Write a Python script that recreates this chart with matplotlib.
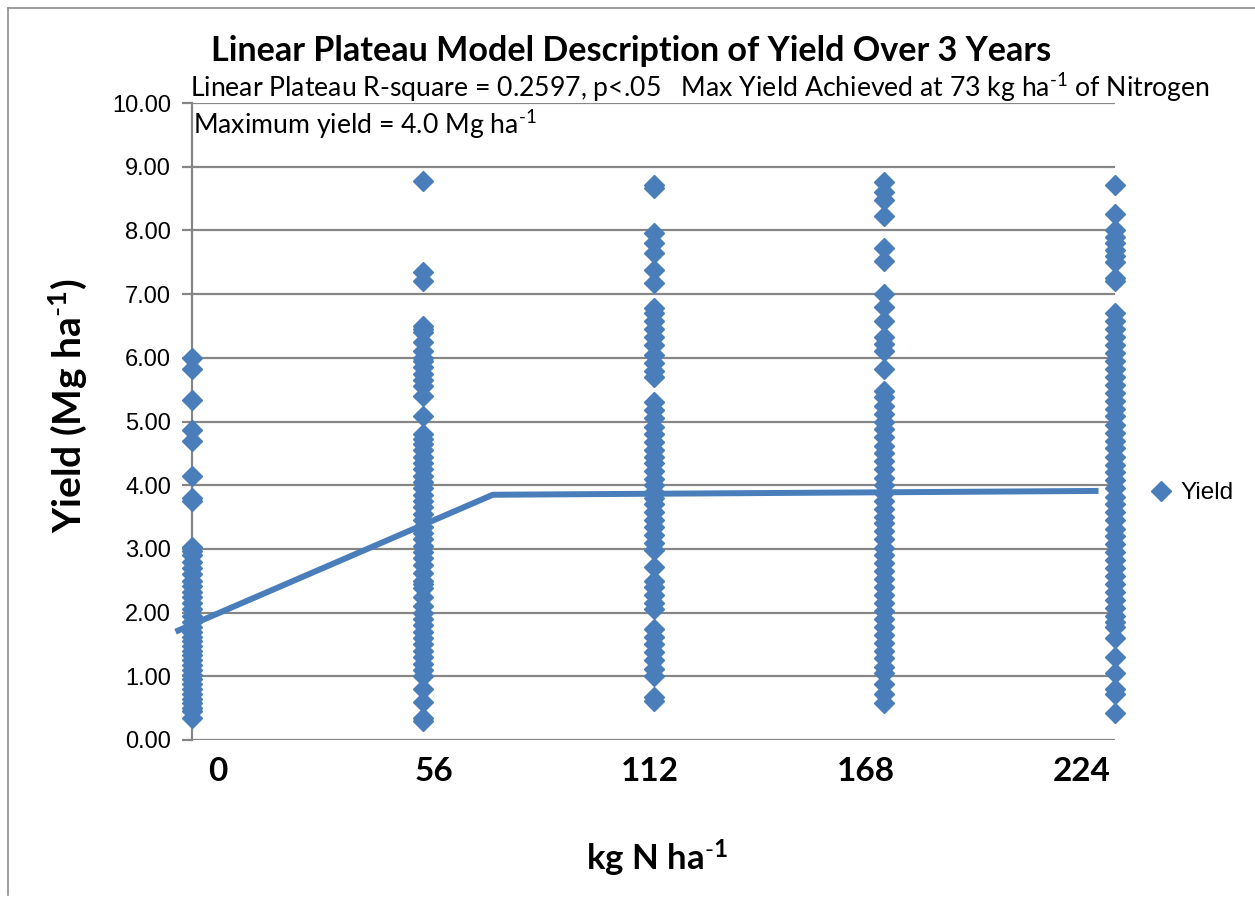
import numpy as np
import matplotlib
matplotlib.use("Agg")
import matplotlib.pyplot as plt
from matplotlib.lines import Line2D

# data (yield, Mg/ha) for each N rate
n_rates = [0, 56, 112, 168, 224]
yield_0 = [6.00, 5.82, 5.33, 4.87, 4.70, 4.15, 3.80, 3.75,
           3.03, 2.97, 2.90, 2.80, 2.70, 2.60, 2.50, 2.42, 2.33, 2.25, 2.15, 2.05,
           1.95, 1.85, 1.78, 1.70, 1.62, 1.55, 1.48, 1.40, 1.33, 1.25, 1.18, 1.10,
           1.02, 0.95, 0.88, 0.80, 0.72, 0.65, 0.58, 0.50, 0.45, 0.35]
yield_56 = [8.78, 7.35, 7.20, 6.50, 6.45, 6.40, 6.25, 6.10, 6.00, 5.95, 5.85, 5.75,
            5.65, 5.55, 5.40, 5.08, 4.80, 4.72, 4.65, 4.55, 4.45, 4.35, 4.25, 4.15,
            4.05, 3.95, 3.85, 3.75, 3.65, 3.55, 3.45, 3.35, 3.25, 3.15, 3.05, 2.95,
            2.85, 2.75, 2.62, 2.50, 2.45, 2.38, 2.25, 2.10, 2.00, 1.90, 1.80, 1.70,
            1.60, 1.50, 1.40, 1.30, 1.20, 1.10, 1.00, 0.80, 0.60, 0.35, 0.30]
yield_112 = [8.72, 8.66, 7.96, 7.80, 7.64, 7.38, 7.18, 6.78, 6.70, 6.58, 6.45, 6.32,
             6.20, 6.05, 5.92, 5.80, 5.70, 5.30, 5.18, 5.05, 4.92, 4.80, 4.68, 4.55,
             4.45, 4.35, 4.22, 4.10, 4.00, 3.90, 3.80, 3.70, 3.58, 3.45, 3.35, 3.22,
             3.10, 2.98, 2.72, 2.50, 2.40, 2.28, 2.15, 2.05, 1.75, 1.62, 1.50, 1.38,
             1.25, 1.12, 1.00, 0.68, 0.62]
yield_168 = [8.76, 8.60, 8.48, 8.22, 7.72, 7.52, 7.00, 6.80, 6.58, 6.33, 6.22, 6.10,
             5.82, 5.48, 5.38, 5.25, 5.12, 5.00, 4.88, 4.75, 4.62, 4.50, 4.38, 4.25,
             4.12, 4.00, 3.88, 3.75, 3.62, 3.50, 3.40, 3.28, 3.15, 3.02, 2.90, 2.78,
             2.65, 2.52, 2.40, 2.28, 2.15, 2.02, 1.90, 1.78, 1.65, 1.52, 1.40, 1.28,
             1.15, 1.05, 0.88, 0.72, 0.58]
yield_224 = [8.72, 8.25, 8.00, 7.90, 7.80, 7.70, 7.60, 7.50, 7.25, 7.20, 6.70, 6.58,
             6.45, 6.32, 6.20, 6.08, 5.95, 5.82, 5.70, 5.58, 5.45, 5.32, 5.20, 5.08,
             4.95, 4.82, 4.70, 4.58, 4.45, 4.32, 4.20, 4.08, 3.95, 3.82, 3.70, 3.58,
             3.45, 3.32, 3.20, 3.08, 2.95, 2.82, 2.70, 2.58, 2.45, 2.32, 2.20, 2.08,
             1.95, 1.85, 1.78, 1.60, 1.30, 1.05, 0.80, 0.72, 0.42]
yields = [yield_0, yield_56, yield_112, yield_168, yield_224]

# linear plateau fit
fit_x = [-4, 73, 220]
fit_y = [1.70, 3.85, 3.91]

blue = "#4A7EBB"
grid_c = "#868686"
cal = ["Lato", "DejaVu Sans"]
plt.rcParams["font.family"] = ["Liberation Sans", "DejaVu Sans"]
plt.rcParams["mathtext.fontset"] = "custom"
plt.rcParams["mathtext.rm"] = "Lato"
plt.rcParams["mathtext.bf"] = "Lato:bold"
plt.rcParams["mathtext.default"] = "regular"

fig = plt.figure(figsize=(12.55, 9.09), dpi=100)
ax = fig.add_axes([192 / 1255, 1 - 740 / 909, 923 / 1255, 637 / 909])

for x, ys in zip(n_rates, yields):
    ax.plot([x] * len(ys), ys, linestyle="none", marker="D", ms=10.5,
            color=blue, mec=blue, clip_on=False, zorder=3)
ax.plot(fit_x, fit_y, color=blue, lw=4.3, solid_capstyle="butt",
        clip_on=False, zorder=4)

ax.set_xlim(0, 224)
ax.set_ylim(0, 10)
ax.set_yticks(np.arange(0, 11, 1))
ax.set_yticklabels([f"{v:.2f}" for v in np.arange(0, 11, 1)], fontsize=17)
ax.yaxis.grid(True, color=grid_c, lw=1.6)
ax.set_axisbelow(True)
for s in ["top", "right", "bottom"]:
    ax.spines[s].set_visible(False)
ax.spines["left"].set_color(grid_c)
ax.spines["left"].set_linewidth(1.6)
ax.tick_params(axis="y", length=7, width=1.6, color=grid_c, pad=8)
ax.set_xticks([])

# category-style labels sit slightly off the points in the original
ax2 = ax.twiny()
ax2.set_xlim(-6.7, 232.6)
ax2.xaxis.set_ticks_position("bottom")
ax2.set_xticks(n_rates)
ax2.set_xticklabels([str(v) for v in n_rates], fontsize=24,
                    fontweight="bold", family=cal)
ax2.tick_params(axis="x", length=0, pad=12)
for s in ax2.spines.values():
    s.set_visible(False)

fig.text(631 / 1255, 1 - 51 / 909, "Linear Plateau Model Description of Yield Over 3 Years",
         ha="center", va="center", fontsize=24.6, fontweight="bold", family=cal)
fig.text(190 / 1255, 1 - 88 / 909,
         r"Linear Plateau R-square = 0.2597, p<.05   Max Yield Achieved at 73 kg ha$^{\text{-1}}$ of Nitrogen",
         ha="left", va="center", fontsize=19.2, family=cal)
fig.text(193 / 1255, 1 - 125 / 909, r"Maximum yield = 4.0 Mg ha$^{\text{-1}}$",
         ha="left", va="center", fontsize=19.2, family=cal)
fig.text(68 / 1255, 1 - 406 / 909, r"Yield (Mg ha$^{\text{-}\mathbf{1}}$)", rotation=90,
         ha="center", va="center", fontsize=28, fontweight="bold", family=cal)
fig.text(657 / 1255, 1 - 858 / 909, r"kg N ha$^{\text{-}\mathbf{1}}$",
         ha="center", va="center", fontsize=25, fontweight="bold", family=cal)

leg_handle = Line2D([], [], linestyle="none", marker="D", ms=10.5, color=blue)
fig.legend([leg_handle], ["Yield"], loc="center left",
           bbox_to_anchor=(1129 / 1255, 1 - 493 / 909), frameon=False,
           fontsize=17.5, handlelength=0.8, handletextpad=0.4)

# chart area border (left and top edges are visible)
fig.add_artist(Line2D([8 / 1255, 8 / 1255], [1 - 895 / 909, 1 - 8 / 909],
                      color="#8C8C8C", lw=1.2))
fig.add_artist(Line2D([8 / 1255, 1.0], [1 - 8 / 909, 1 - 8 / 909],
                      color="#8C8C8C", lw=1.2))

fig.savefig("out.png", dpi=100)
